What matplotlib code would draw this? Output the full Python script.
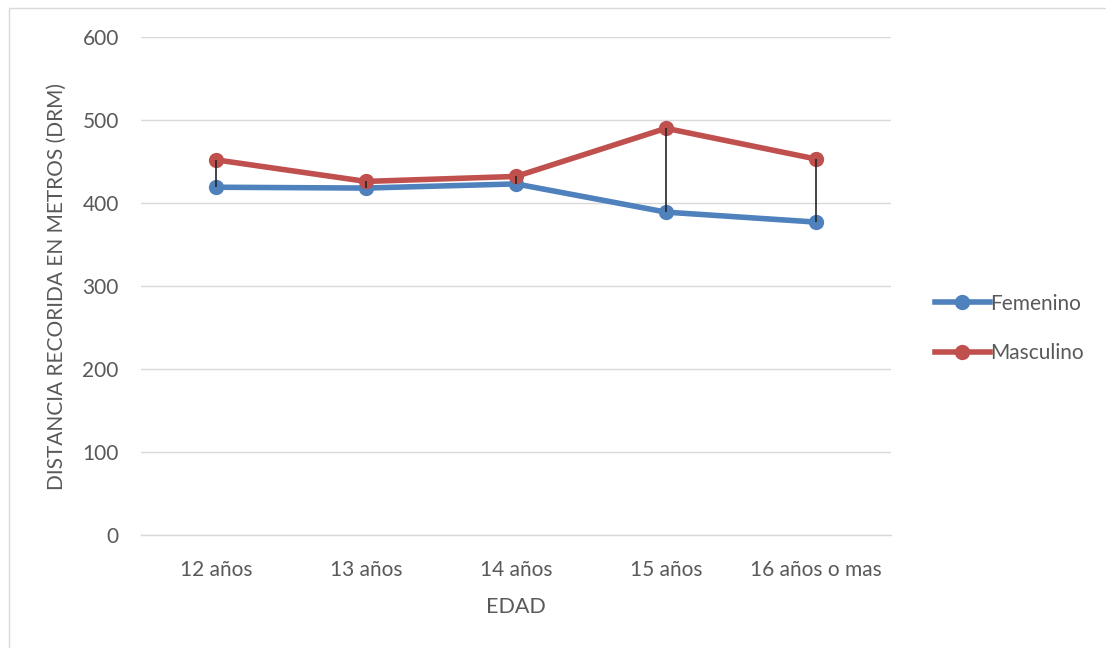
import matplotlib.pyplot as plt
from matplotlib.patches import Rectangle

edades = ['12 años', '13 años', '14 años', '15 años', '16 años o mas']
femenino = [419, 418, 423, 389, 377]
masculino = [452, 426, 432, 490, 453]
y_ticks = [0, 100, 200, 300, 400, 500, 600]

azul = '#4f81bd'
rojo = '#c0504d'
gris_txt = '#595959'

plt.rcParams['font.family'] = ['Lato', 'DejaVu Sans']

fig = plt.figure(figsize=(11.06, 6.48), dpi=100)
# chart border (light gray, left/top visible)
fig.patches.append(Rectangle((9 / 1106, -0.1), 1.2, 1 - 8 / 648 + 0.1,
                             transform=fig.transFigure, fill=False,
                             edgecolor='#d9d9d9', linewidth=1))

ax = fig.add_axes([141 / 1106, 1 - 535 / 648, 750 / 1106, 498 / 648])
x = list(range(len(edades)))

# high-low lines between the two series
ax.vlines(x, femenino, masculino, color='#262626', linewidth=1.2, zorder=4)

ax.plot(x, femenino, color=azul, linewidth=4, marker='o', markersize=10,
        label='Femenino', zorder=3)
ax.plot(x, masculino, color=rojo, linewidth=4, marker='o', markersize=10,
        label='Masculino', zorder=3)

ax.set_xlim(-0.5, len(edades) - 0.5)
ax.set_ylim(0, 600)
ax.set_yticks(y_ticks)
ax.set_xticks(x)
ax.set_xticklabels(edades)
ax.grid(axis='y', color='#d9d9d9', linewidth=1)
ax.axhline(0, color='#d9d9d9', linewidth=1, clip_on=False, zorder=0)
ax.set_axisbelow(True)
for sp in ax.spines.values():
    sp.set_visible(False)
ax.tick_params(length=0, labelsize=15, labelcolor=gris_txt, pad=18)
ax.tick_params(axis='y', pad=16)

ax.set_xlabel('EDAD', fontsize=15.5, color=gris_txt, labelpad=12)
ax.set_ylabel('DISTANCIA RECORIDA EN METROS (DRM)', fontsize=15,
              color=gris_txt, labelpad=11)

leg = ax.legend(loc='center left', bbox_to_anchor=(1.048, 0.415), frameon=False,
                fontsize=15, handlelength=2.6, handletextpad=0.05,
                labelspacing=1.4, borderaxespad=0)
for t in leg.get_texts():
    t.set_color(gris_txt)

fig.savefig('out.png', dpi=100)
